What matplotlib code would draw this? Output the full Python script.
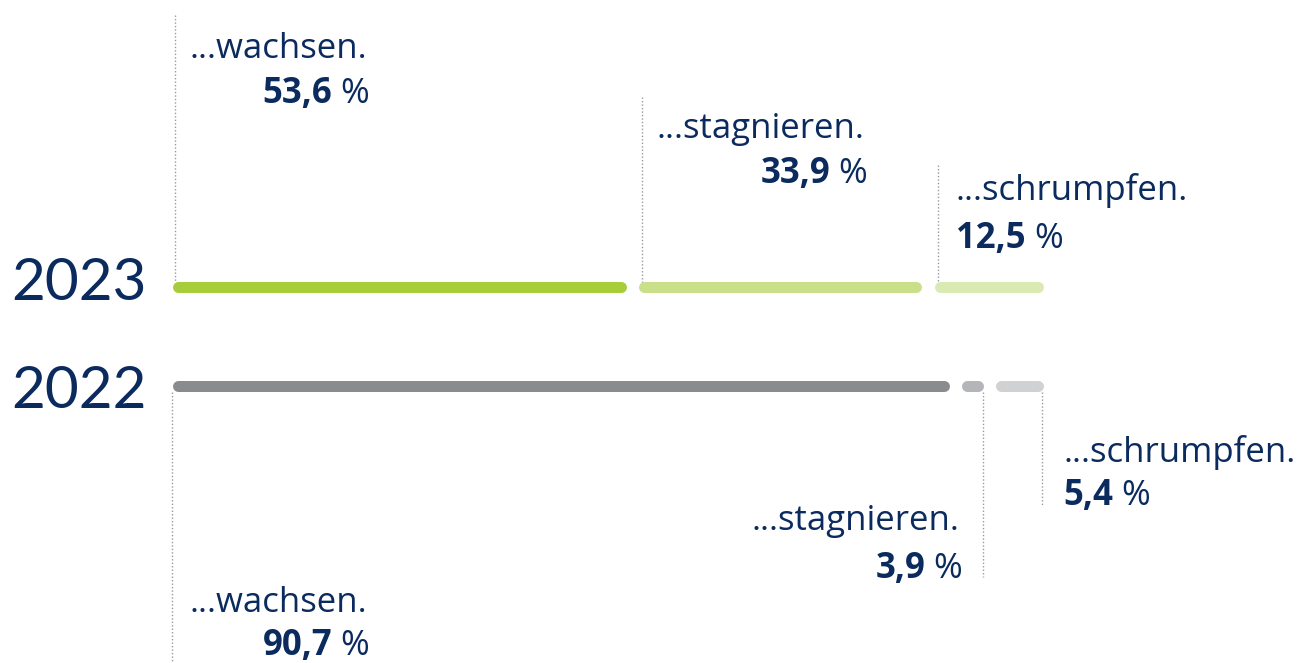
import matplotlib.pyplot as plt

plt.rcParams['font.family'] = ['Open Sans', 'DejaVu Sans']

## Survey data: share expecting the market to...
years = ['2023', '2022']
categories = ['...wachsen.', '...stagnieren.', '...schrumpfen.']
values_2023 = [53.6, 33.9, 12.5]
values_2022 = [90.7, 3.9, 5.4]
labels_2023 = ['53,6', '33,9', '12,5']
labels_2022 = ['90,7', '3,9', '5,4']

colors_2023 = ['#a6ce39', '#c9df8a', '#dbe9b2']
colors_2022 = ['#8a8b8f', '#b4b5b8', '#d0d1d3']
navy = '#0b2b5e'

W, H, DPI = 1314, 663, 100
fig = plt.figure(figsize=(W / DPI, H / DPI), dpi=DPI)
ax = fig.add_axes([0, 0, 1, 1])
ppu = 8.71  # pixels per percent
x0 = 172
ax.set_xlim(-x0 / ppu, (W - x0) / ppu)
ax.set_ylim(H, 0)
ax.axis('off')
renderer = fig.canvas.get_renderer()

lw_px = 11
lw = lw_px * 72 / DPI
cap = lw_px / 2 / ppu
gap = 1.4

def draw_bar(values, colors, y):
    starts, ends = [], []
    pos = 0
    for v, c in zip(values, colors):
        s, e = pos, pos + v
        last = e > 99.9
        end = e if last else e - gap
        ax.plot([s + cap, end - cap], [y, y], color=c, lw=lw, solid_capstyle='round')
        starts.append(s)
        ends.append(end)
        pos = e
    return starts, ends

def value_label(x_px, y, num, ha):
    # bold number followed by a regular-weight percent sign
    pct = ax.text(0, y, ' %', fontsize=25, color=navy, va='baseline')
    pw = pct.get_window_extent(renderer).width
    nb = ax.text(0, y, num, fontsize=25, color=navy, va='baseline', fontweight='bold')
    nw = nb.get_window_extent(renderer).width
    if ha == 'right':
        right = x_px
    else:
        right = x_px + nw + pw
    pct.set_position(((right - x0) / ppu, y))
    pct.set_ha('right')
    nb.set_position(((right - pw - x0) / ppu, y))
    nb.set_ha('right')

s23, e23 = draw_bar(values_2023, colors_2023, 287)
s22, e22 = draw_bar(values_2022, colors_2022, 386)

for yr, yp in zip(years, [284, 391]):
    fig.text(11 / W, 1 - yp / H, yr, fontsize=42, color=navy, va='center', ha='left',
             family=['Lato', 'DejaVu Sans'])

dot = dict(color='#9a9a9a', lw=1, ls=(0, (1, 1.5)))

# 2023 annotations: lines rise from segment starts
tops23 = [15, 97, 165]
for s, t in zip(s23, tops23):
    ax.plot([s + 0.4, s + 0.4], [t, 282], **dot)
name_pos23 = [(190, 58), (657, 138), (956, 200)]
val_pos23 = [(370, 103, 'right'), (868, 183, 'right'), (956, 248, 'left')]
for cat, lab, (nx, ny), (vx, vy, ha) in zip(categories, labels_2023, name_pos23, val_pos23):
    ax.text((nx - x0) / ppu, ny, cat, fontsize=25, color=navy, ha='left', va='baseline')
    value_label(vx, vy, lab, ha)

# 2022 annotations: lines drop from segment start / ends
xs22 = [s22[0], e22[1] - 0.1, e22[2] - 0.1]
bottoms22 = [663, 577, 505]
for x, b in zip(xs22, bottoms22):
    ax.plot([x, x], [392, b], **dot)
name_pos22 = [(190, 612), (752, 530), (1063, 462)]
val_pos22 = [(370, 655, 'right'), (963, 578, 'right'), (1063, 505, 'left')]
for cat, lab, (nx, ny), (vx, vy, ha) in zip(categories, labels_2022, name_pos22, val_pos22):
    ax.text((nx - x0) / ppu, ny, cat, fontsize=25, color=navy, ha='left', va='baseline')
    value_label(vx, vy, lab, ha)

fig.savefig('out.png', dpi=DPI)
